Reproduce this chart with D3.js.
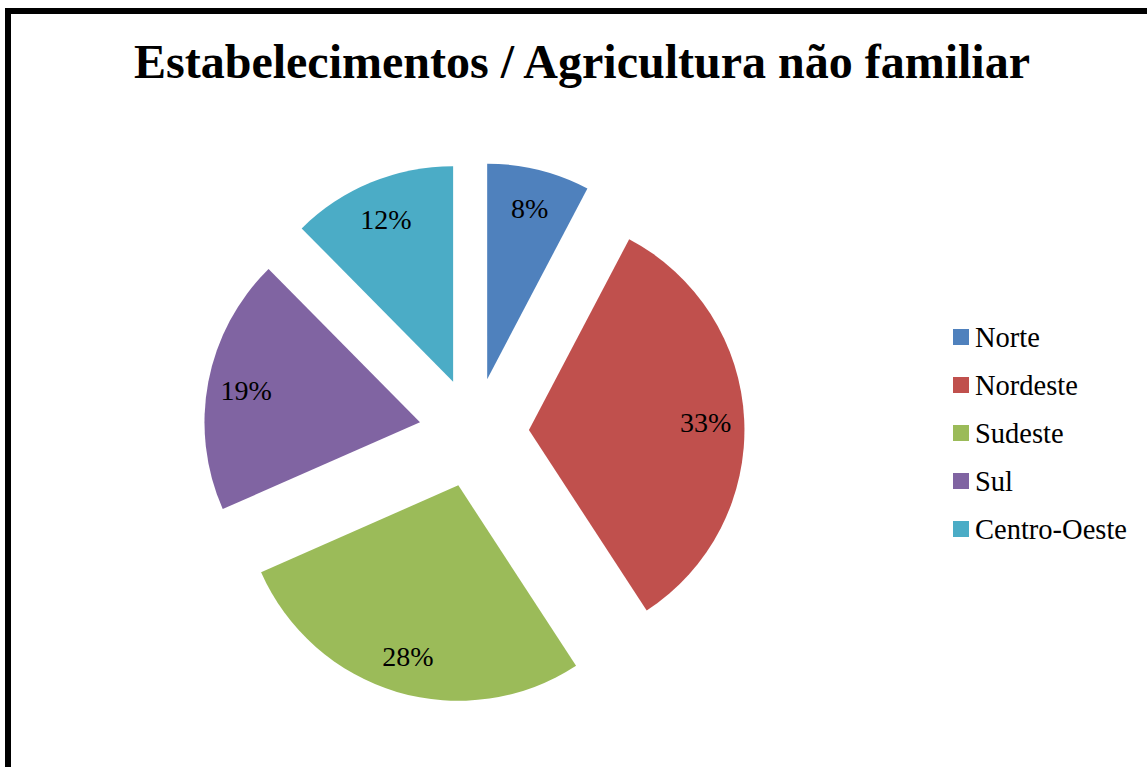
<!DOCTYPE html>
<html>
<head>
<meta charset="utf-8">
<script src="https://cdn.jsdelivr.net/npm/d3@7"></script>
<style>
  body { margin: 0; background: #fff; }
  svg { display: block; }
</style>
</head>
<body>
<svg id="chart" width="1147" height="767"></svg>
<script>
(function() {
    'use strict';
    // data (shares, labels are rounded)
    var regions = ['Norte', 'Nordeste', 'Sudeste', 'Sul', 'Centro-Oeste'];
    var shares = [7.7, 33.1, 27.6, 19.2, 12.4];
    var colors = ['#4F81BD', '#C0504D', '#9BBB59', '#8064A2', '#4BACC6'];
    var title = 'Estabelecimentos / Agricultura não familiar';

    var W = 1147, H = 767,
        cx = 474, cy = 432.6, radius = 215.5, explode = 55, labelDist = 177,
        font = '"Liberation Serif", "Times New Roman", serif';

    var svg = d3.select('#chart');
    var total = d3.sum(shares);

    // frame
    svg.append('rect')
        .attr('x', 8).attr('y', 11)
        .attr('width', W + 20).attr('height', H + 20)
        .attr('fill', '#fff').attr('stroke', '#000').attr('stroke-width', 6);

    svg.append('text')
        .attr('x', 582).attr('y', 78)
        .attr('text-anchor', 'middle')
        .attr('font-family', font).attr('font-weight', 'bold').attr('font-size', 48)
        .text(title);

    var pie = d3.pie().sort(null).value(function(d) { return d; });
    var arcs = pie(shares);
    var arc = d3.arc().innerRadius(0).outerRadius(radius);
    var color = d3.scaleOrdinal().domain(regions).range(colors);
    var mid = function(d) { return (d.startAngle + d.endAngle) / 2; };

    var slices = svg.append('g')
        .attr('transform', 'translate(' + cx + ',' + cy + ')')
        .selectAll('.slice')
        .data(arcs).enter()
        .append('g').attr('class', 'slice')
        .attr('transform', function(d) {
            return 'translate(' + (Math.sin(mid(d)) * explode) + ',' + (-Math.cos(mid(d)) * explode) + ')';
        });

    slices.append('path')
        .attr('d', arc)
        .attr('fill', function(d, i) { return color(regions[i]); });

    slices.append('text')
        .attr('x', function(d) { return Math.sin(mid(d)) * labelDist; })
        .attr('y', function(d) { return -Math.cos(mid(d)) * labelDist; })
        .attr('dy', '0.38em')
        .attr('text-anchor', 'middle')
        .attr('font-family', font).attr('font-size', 28)
        .text(function(d) { return Math.round(d.data / total * 100) + '%'; });

    // legend
    var legend = svg.append('g').attr('transform', 'translate(953,329)')
        .selectAll('.item')
        .data(regions).enter()
        .append('g').attr('class', 'item')
        .attr('transform', function(d, i) { return 'translate(0,' + (i * 48) + ')'; });
    legend.append('rect')
        .attr('width', 16).attr('height', 16)
        .attr('fill', function(d) { return color(d); });
    legend.append('text')
        .attr('x', 22).attr('y', 18)
        .attr('font-family', font).attr('font-size', 28.5)
        .text(function(d) { return d; });
}());
</script>
</body>
</html>
